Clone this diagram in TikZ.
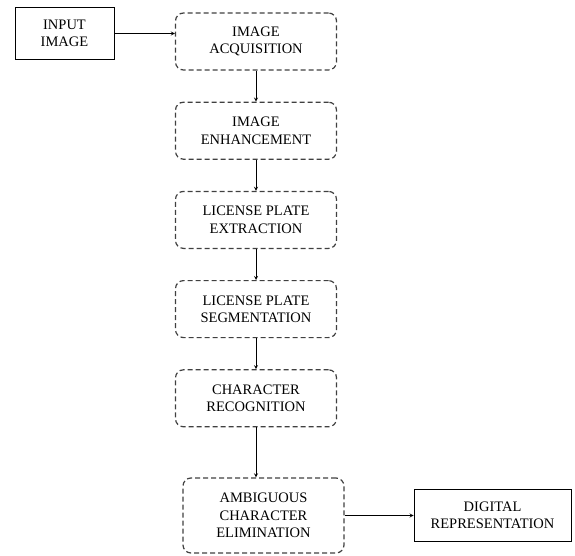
\documentclass[tikz,border=0pt]{standalone}
\usepackage{fontspec}
\setmainfont{Liberation Serif}
\usetikzlibrary{arrows, positioning}

\begin{document}
\begin{tikzpicture}[
    x=1pt, y=1pt,
    node distance=31pt,
    every node/.style={font=\fontsize{14.5}{17.5}\selectfont},
    stage/.style={rectangle, rounded corners=8pt, minimum width=161pt, minimum height=57pt,
                  align=center, draw=black!75, line width=1.2pt, dash pattern=on 5pt off 3pt},
    endbox/.style={rectangle, minimum height=52pt, align=center, draw=black, line width=0.9pt},
    arrow/.style={->, >=stealth, line width=0.8pt}
]
\useasboundingbox (0,0) rectangle (575,-556);

% Stages
\node (acq) [stage] at (256,-41.5) {IMAGE\\ACQUISITION};
\node (enh) [stage, below=of acq] {IMAGE\\ENHANCEMENT};
\node (extr) [stage, below=of enh] {LICENSE PLATE\\EXTRACTION};
\node (seg) [stage, below=of extr] {LICENSE PLATE\\SEGMENTATION};
\node (recog) [stage, below=of seg] {CHARACTER\\RECOGNITION};
\node (elim) [stage, minimum height=75pt, below=50pt of recog, xshift=7.5pt] {AMBIGUOUS\\CHARACTER\\ELIMINATION};

% Input and output
\node (input) [endbox, minimum width=99pt] at (64.5,-33.5) {INPUT\\IMAGE};
\node (digital) [endbox, minimum width=157pt, right=69pt of elim] {DIGITAL\\REPRESENTATION};

% Arrows
\draw [arrow] (input.east) -- (input.east -| acq.west);
\draw [arrow] (acq) -- (enh);
\draw [arrow] (enh) -- (extr);
\draw [arrow] (extr) -- (seg);
\draw [arrow] (seg) -- (recog);
\draw [arrow] (recog.south) -- (recog.south |- elim.north);
\draw [arrow] (elim) -- (digital);

\end{tikzpicture}
\end{document}
